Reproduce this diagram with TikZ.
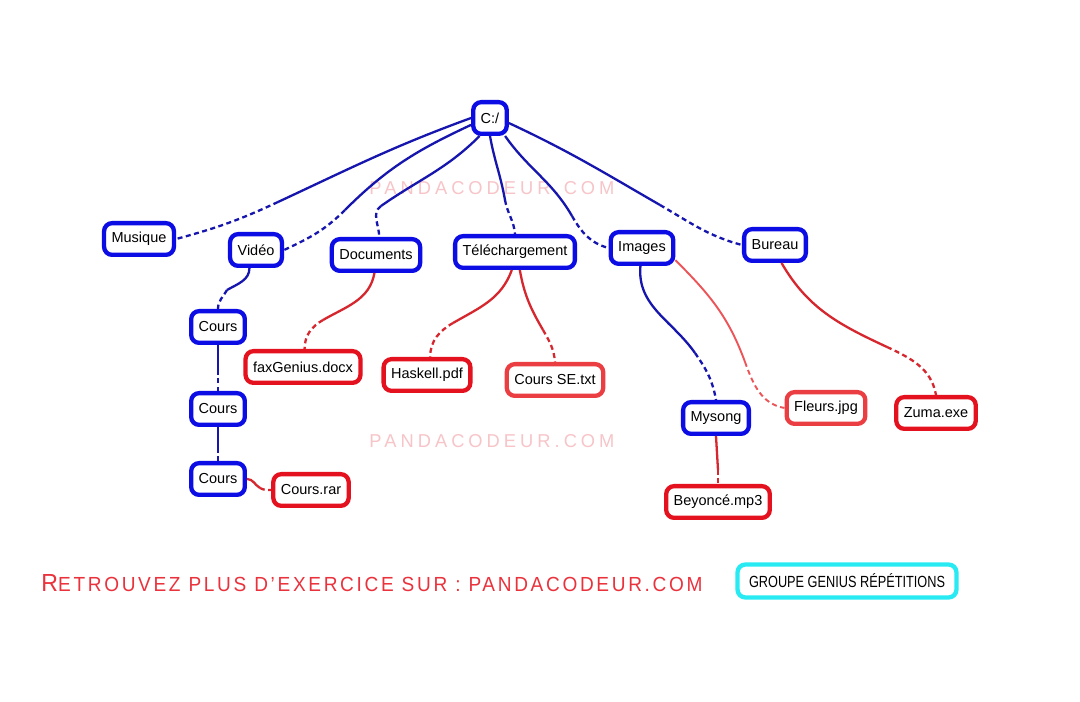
\documentclass[tikz,border=0pt]{standalone}
\usepackage{fontspec}
\setmainfont{Liberation Sans}
\usepackage{graphicx}
\usepackage{xcolor}
\usetikzlibrary{positioning}
\definecolor{dirblue}  {RGB}{ 12, 12,228}
\definecolor{linkblue} {RGB}{ 22, 22,175}
\definecolor{filered}  {RGB}{228, 18, 30}
\definecolor{softred}  {RGB}{234, 62, 66}
\definecolor{linkred}  {RGB}{214, 38, 46}
\definecolor{softlink} {RGB}{236, 84, 88}
\definecolor{groupcyan}{RGB}{ 40,234,242}
\definecolor{markpink} {RGB}{247,196,200}
\definecolor{adred}    {RGB}{234, 50, 60}

\begin{document}
\begin{tikzpicture}[
    x=1pt, y=1pt,
    box/.style={draw, rectangle, rounded corners=8pt, line width=4.3pt, fill=white, minimum height=31.7pt, inner xsep=7.5pt, font=\fontsize{14.5}{16}\selectfont},
    dir/.style={box, draw=dirblue},
    file/.style={box, draw=filered},
    softfile/.style={box, draw=softred},
    trunk/.style={line width=2.3pt},
    twig/.style={line width=2.3pt, dash pattern=on 5pt off 3.5pt},
    bluelink/.style={draw=linkblue},
    redlink/.style={draw=linkred},
    softlink/.style={draw=softlink, line width=1.9pt}
]
    \fill[white] (0,0) rectangle (1080,702);
    \useasboundingbox (0,0) rectangle (1080,702);

    % watermarks
    \node[text=markpink, font=\fontsize{16}{16}\selectfont] (mark1) at (492,514) {\resizebox{245pt}{13pt}{\addfontfeature{LetterSpace=22}PANDACODEUR.COM}};
    \node[text=markpink, font=\fontsize{16}{16}\selectfont] (mark2) at (492,261) {\resizebox{245pt}{13pt}{\addfontfeature{LetterSpace=22}PANDACODEUR.COM}};

    % folders
    \node[dir] (root) at (490,584) {C:/};
    \node[dir] (mus) at (139,463) {Musique};
    \node[dir] (vid) at (256,452) {Vidéo};
    \node[dir] (doc) at (376,447) {Documents};
    \node[dir] (tel) at (515,450) {Téléchargement};
    \node[dir] (img) at (642,454) {Images};
    \node[dir] (bur) at (775,457) {Bureau};
    \node[dir] (cours1) at (218,375) {Cours};
    \node[dir] (cours2) at (218,293) {Cours};
    \node[dir] (cours3) at (218,223) {Cours};
    \node[dir] (mys) at (716,284) {Mysong};

    % files
    \node[file] (fax) at (303,335) {faxGenius.docx};
    \node[file] (has) at (427,327) {Haskell.pdf};
    \node[softfile] (cse) at (555,322) {Cours SE.txt};
    \node[softfile] (fle) at (826,294) {Fleurs.jpg};
    \node[file] (zum) at (936,289) {Zuma.exe};
    \node[file] (bey) at (718,200) {Beyoncé.mp3};
    \node[file] (rar) at (311,212) {Cours.rar};

    % footer
    \node[text=adred] (ad) at (372,119) {\resizebox{661pt}{17pt}{\addfontfeature{LetterSpace=14}{\fontsize{23}{23}\selectfont R}{\fontsize{19}{19}\selectfont ETROUVEZ PLUS D'EXERCICE SUR : PANDACODEUR.COM}}};
    \node[box, draw=groupcyan, minimum width=219pt, minimum height=33pt] (group) at (847,121) {\resizebox{196pt}{14pt}{GROUPE GENIUS RÉPÉTITIONS}};

    % split points
    \coordinate (mmus) at (278,500);
    \coordinate (mvid) at (345,492);
    \coordinate (mdoc) at (381,496);
    \coordinate (mtel) at (505,502);
    \coordinate (mimg) at (572,486);
    \coordinate (mbur) at (660,497);
    \coordinate (mc1) at (227,412);
    \coordinate (mc2) at (218,332);
    \coordinate (mc3) at (218,254);
    \coordinate (mrar) at (260,214);
    \coordinate (mfax) at (323,382);
    \coordinate (mhas) at (453,379);
    \coordinate (mcse) at (543,372);
    \coordinate (mmys) at (695,349);
    \coordinate (mfle) at (745,340);
    \coordinate (mzum) at (887,355);
    \coordinate (mbey) at (718,232);

    \draw[trunk, bluelink] (root.west) to[out=200, in=25] (mmus);
    \draw[twig, bluelink] (mmus) to[out=205, in=15] (mus.east);
    \draw[trunk, bluelink] (root.200) to[out=205, in=45] (mvid);
    \draw[twig, bluelink] (mvid) to[out=225, in=25] (vid.east);
    \draw[trunk, bluelink] (root.240) to[out=225, in=35] (mdoc);
    \draw[twig, bluelink] (mdoc) to[out=215, in=90] (doc.80);
    \draw[trunk, bluelink] (root.south) to[out=-80, in=100] (mtel);
    \draw[twig, bluelink] (mtel) to[out=-80, in=95] (tel.north);
    \draw[trunk, bluelink] (root.-50) to[out=-55, in=120] (mimg);
    \draw[twig, bluelink] (mimg) to[out=-60, in=165] (img.west);
    \draw[trunk, bluelink] (root.-15) to[out=-25, in=150] (mbur);
    \draw[twig, bluelink] (mbur) to[out=-30, in=165] (bur.west);

    \draw[trunk, bluelink] (vid.250) to[out=-90, in=30] (mc1);
    \draw[twig, bluelink] (mc1) to[out=-120, in=90] (cours1.north);
    \draw[trunk, bluelink] (cours1.south) -- (mc2);
    \draw[twig, bluelink] (mc2) -- (cours2.north);
    \draw[trunk, bluelink] (cours2.south) -- (mc3);
    \draw[twig, bluelink] (mc3) -- (cours3.north);
    \draw[trunk, redlink] (cours3.east) to[out=0, in=150] (mrar);
    \draw[twig, redlink] (mrar) to[out=-30, in=180] (rar.west);

    \draw[trunk, redlink] (doc.265) to[out=-100, in=30] (mfax);
    \draw[twig, redlink] (mfax) to[out=-150, in=90] (fax.85);
    \draw[trunk, redlink] (tel.260) to[out=-110, in=30] (mhas);
    \draw[twig, redlink] (mhas) to[out=-150, in=90] (has.80);
    \draw[trunk, redlink] (tel.285) to[out=-80, in=120] (mcse);
    \draw[twig, redlink] (mcse) to[out=-60, in=95] (cse.north);

    \draw[trunk, bluelink] (img.265) to[out=-95, in=125] (mmys);
    \draw[twig, bluelink] (mmys) to[out=-55, in=100] (mys.north);
    \draw[trunk, softlink] (img.-20) to[out=-45, in=110] (mfle);
    \draw[twig, softlink] (mfle) to[out=-70, in=170] (fle.west);
    \draw[trunk, redlink] (bur.290) to[out=-60, in=155] (mzum);
    \draw[twig, redlink] (mzum) to[out=-25, in=100] (zum.north);
    \draw[trunk, redlink] (mys.south) -- (mbey);
    \draw[twig, redlink] (mbey) -- (bey.north);
\end{tikzpicture}
\end{document}
